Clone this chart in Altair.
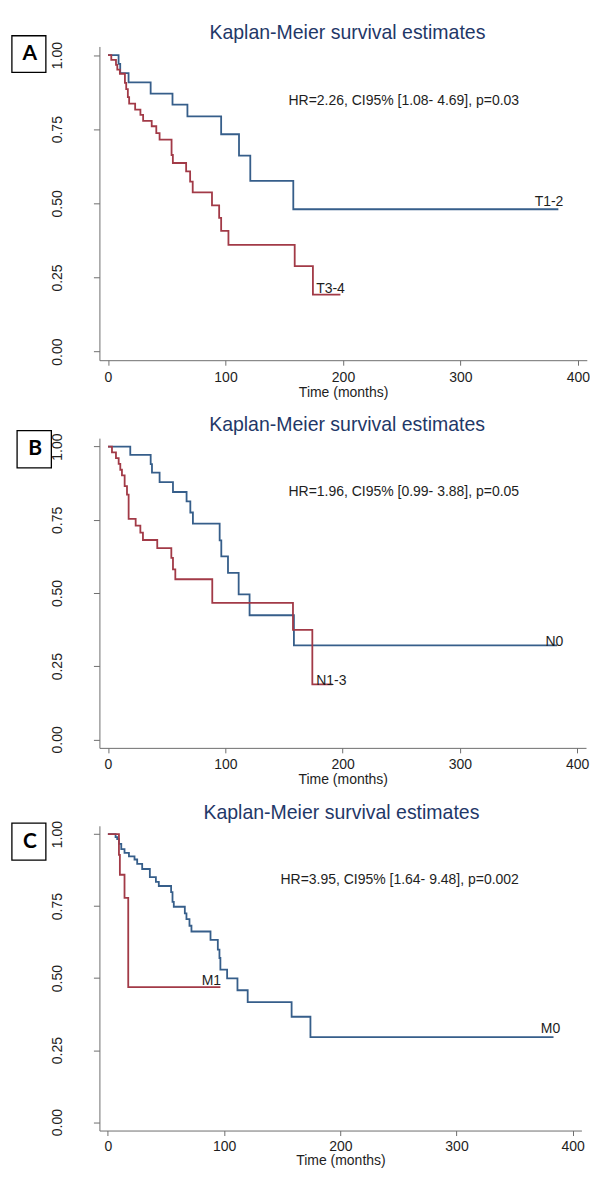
import altair as alt
import pandas as pd

# ---------------- data ----------------
# Panel A: T stage
a_t12_time = [0, 9.0, 10.4, 17.5, 36.3, 54.9, 67.6, 96.3, 111.5, 121.1, 157.7, 383.3]
a_t12_surv = [1.0, 0.970, 0.939, 0.908, 0.870, 0.833, 0.793, 0.733, 0.661, 0.576, 0.480, 0.480]
a_t34_time = [0, 2.8, 6.8, 7.9, 10.1, 14.4, 15.5, 16.9, 18.0, 23.1, 27.6, 29.9, 37.2, 41.1,
              43.9, 54.1, 55.2, 66.5, 69.9, 72.1, 88.5, 94.6, 96.3, 102.5, 158.9, 174.4, 197.8]
a_t34_surv = [1.0, 0.984, 0.967, 0.951, 0.937, 0.906, 0.885, 0.858, 0.836, 0.816, 0.798, 0.778,
              0.760, 0.737, 0.715, 0.663, 0.636, 0.608, 0.573, 0.537, 0.493, 0.451, 0.407,
              0.360, 0.288, 0.192, 0.192]

# Panel B: N stage
b_n0_time = [0, 19.0, 36.4, 37.5, 44.0, 55.4, 67.0, 70.2, 72.4, 95.2, 96.6, 102.3, 111.4,
             120.7, 158.5, 383.0]
b_n0_surv = [1.0, 0.972, 0.940, 0.911, 0.879, 0.845, 0.813, 0.775, 0.737, 0.680, 0.625,
             0.569, 0.495, 0.424, 0.321, 0.321]
b_n13_time = [0, 3.4, 6.8, 9.1, 10.5, 11.9, 14.2, 16.2, 17.6, 23.6, 27.6, 29.8, 42.0, 54.0,
              55.4, 57.4, 88.9, 157.7, 174.2, 191.4]
b_n13_surv = [1.0, 0.980, 0.961, 0.941, 0.921, 0.902, 0.865, 0.836, 0.753, 0.730, 0.706,
              0.681, 0.653, 0.620, 0.581, 0.547, 0.466, 0.374, 0.188, 0.188]

# Panel C: M stage
c_m0_time = [0, 6.6, 8.0, 9.5, 11.5, 14.3, 18.1, 22.9, 25.2, 29.5, 36.1, 41.3, 43.8, 54.4,
             55.6, 56.7, 66.2, 67.6, 70.2, 71.9, 88.3, 94.6, 96.0, 96.8, 102.6, 111.5, 120.3,
             158.1, 174.3, 383.5]
c_m0_surv = [1.0, 0.990, 0.983, 0.966, 0.948, 0.935, 0.923, 0.912, 0.897, 0.879, 0.851,
             0.834, 0.820, 0.799, 0.765, 0.748, 0.725, 0.705, 0.682, 0.662, 0.633, 0.599,
             0.570, 0.530, 0.499, 0.458, 0.417, 0.366, 0.295, 0.295]
c_m1_time = [0, 9.5, 10.3, 14.3, 17.5, 96.8]
c_m1_surv = [1.0, 0.928, 0.859, 0.779, 0.469, 0.469]

x_ticks = [0, 100, 200, 300, 400]
y_ticks = [0.0, 0.25, 0.5, 0.75, 1.0]

TITLE = "Kaplan-Meier survival estimates"
X_TITLE = "Time (months)"

BLUE = "#365e8a"
RED = "#a23a47"
NAVY = "#1f3868"
AXIS = "#6e6e6e"
TXT = "#1e1e1e"
FONT = "Liberation Sans"

XDOM = [-7.3, 407.5]
YDOM = [-0.029, 1.029]


def panel(blue, red, letter, hr, w, h, box, title_x, hr_x, hr_y, blue_lab_off, red_lab_off,
          lab_pad=5, title_pad=1):
    (bt, bs, bl), (rt, rs, rl) = blue, red
    df = pd.concat([
        pd.DataFrame({"time": bt, "surv": bs, "group": bl}),
        pd.DataFrame({"time": rt, "surv": rs, "group": rl}),
    ])
    x_enc = alt.X("time:Q", scale=alt.Scale(domain=XDOM, nice=False, zero=False),
                  axis=alt.Axis(values=x_ticks, title=X_TITLE, grid=False, labelFlush=False,
                                tickSize=5, labelPadding=lab_pad, titlePadding=title_pad,
                                labelFontSize=14, titleFontSize=14, labelFont=FONT,
                                titleFont=FONT, titleFontWeight="normal",
                                labelColor=TXT, titleColor=TXT, domainColor=AXIS,
                                tickColor=AXIS))
    y_enc = alt.Y("surv:Q", scale=alt.Scale(domain=YDOM, nice=False, zero=False),
                  axis=alt.Axis(values=y_ticks, format=".2f", title=None, grid=False,
                                labelFlush=False, labelAngle=270, labelAlign="center",
                                labelBaseline="alphabetic", tickSize=6, labelPadding=31.5,
                                labelFontSize=14, labelFont=FONT, labelColor=TXT,
                                domainColor=AXIS, tickColor=AXIS))
    lines = alt.Chart(df).mark_line(interpolate="step-after", strokeWidth=1.8).encode(
        x=x_enc, y=y_enc,
        color=alt.Color("group:N", scale=alt.Scale(domain=[bl, rl], range=[BLUE, RED]),
                        legend=None),
        detail="group:N",
    )
    layers = [lines]
    for (t, s, lab), (dx, dy) in ((blue, blue_lab_off), (red, red_lab_off)):
        end = pd.DataFrame({"time": [t[-1]], "surv": [s[-1]], "label": [lab]})
        layers.append(alt.Chart(end).mark_text(
            align="right", baseline="alphabetic", dx=dx, dy=dy, font=FONT, fontSize=14,
            color=TXT).encode(x="time:Q", y="surv:Q", text="label:N"))
    dummy = pd.DataFrame({"k": [0]})
    layers.append(alt.Chart(dummy).mark_text(
        text=TITLE, font=FONT, fontSize=19.5, color=NAVY, align="center",
        baseline="alphabetic").encode(x=alt.value(title_x), y=alt.value(-7)))
    layers.append(alt.Chart(dummy).mark_text(
        text=hr, font=FONT, fontSize=14, color=TXT, align="left",
        baseline="alphabetic").encode(x=alt.value(hr_x), y=alt.value(hr_y)))
    x1, x2, y1, y2 = box
    layers.append(alt.Chart(dummy).mark_rect(fill="white", stroke="black",
                                             strokeWidth=1.3).encode(
        x=alt.value(x1), x2=alt.value(x2), y=alt.value(y1), y2=alt.value(y2)))
    layers.append(alt.Chart(dummy).mark_text(
        text=letter, font="Lato", fontWeight="bold", fontSize=21, color="black",
        align="center", baseline="middle").encode(
        x=alt.value((x1 + x2) / 2 + 1), y=alt.value((y1 + y2) / 2)))
    return alt.layer(*layers).properties(width=w, height=h)


pa = panel((a_t12_time, a_t12_surv, "T1-2"), (a_t34_time, a_t34_surv, "T3-4"), "A",
           "HR=2.26, CI95% [1.08- 4.69], p=0.03", 487.8, 314,
           (-87.6, -53.6, -10.7, 26), 248.2, 189.2, 58.8, (5, -3), (4.5, -1.7))
pb = panel((b_n0_time, b_n0_surv, "N0"), (b_n13_time, b_n13_surv, "N1-3"), "B",
           "HR=1.96, CI95% [0.99- 3.88], p=0.05", 487.0, 310,
           (-82.4, -48.1, -7.6, 29.7), 247.9, 189.2, 58, (6, 0.6), (14, 0.6))
pc = panel((c_m0_time, c_m0_surv, "M0"), (c_m1_time, c_m1_surv, "M1"), "C",
           "HR=3.95, CI95% [1.64- 9.48], p=0.002", 482.4, 305,
           (-87.6, -53.6, -2.6, 34.4), 242.2, 181.2, 58.4, (6.7, -4), (0.7, -2),
           lab_pad=3.5, title_pad=0.5)

chart = alt.vconcat(pa, pb, pc, spacing=78, bounds="flush").properties(
    padding={"left": 2.5, "top": 15, "right": 0, "bottom": 0},
    background="white",
).configure_view(stroke=None)

chart.save("out.html", embed_options={"renderer": "svg", "actions": False})
